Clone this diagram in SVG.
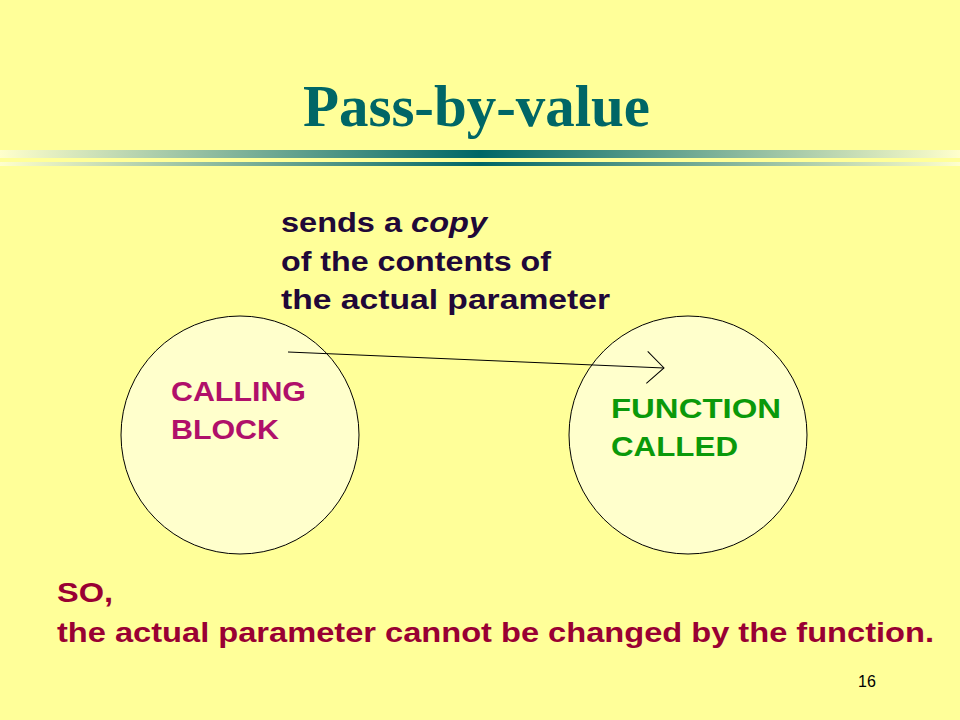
<svg xmlns="http://www.w3.org/2000/svg" width="960" height="720" viewBox="0 0 960 720">
<defs>
<linearGradient id="bar" x1="0" y1="0" x2="1" y2="0">
<stop offset="0" stop-color="#FFFFCC"/>
<stop offset="0.5" stop-color="#006666"/>
<stop offset="1" stop-color="#FFFFCC"/>
</linearGradient>
<marker id="open" markerWidth="20" markerHeight="34" refX="18" refY="17" orient="auto" markerUnits="userSpaceOnUse">
<path d="M1,1 L18,17 L1,33" fill="none" stroke="#000" stroke-width="1"/>
</marker>
</defs>
<style>
.t{font-family:"Liberation Sans",Arial,sans-serif;font-weight:bold}
.node circle{fill:#FFFFCC;stroke:#000;stroke-width:1}
</style>
<rect width="960" height="720" fill="#FFFF99"/>
<text x="303" y="126" textLength="347" lengthAdjust="spacingAndGlyphs" font-family="Liberation Serif,Times New Roman,serif" font-weight="bold" font-size="60" fill="#006666">Pass-by-value</text>
<rect x="0" y="150" width="960" height="8" fill="url(#bar)"/>
<rect x="0" y="162" width="960" height="4" fill="url(#bar)"/>
<g id="calling-block" class="node">
<circle cx="240" cy="435" r="119"/>
<text class="t" x="171" y="401" font-size="28" fill="#B0106A" textLength="135" lengthAdjust="spacingAndGlyphs">CALLING</text>
<text class="t" x="171" y="439" font-size="28" fill="#B0106A" textLength="108" lengthAdjust="spacingAndGlyphs">BLOCK</text>
</g>
<g id="function-called" class="node">
<circle cx="688" cy="435" r="119"/>
<text class="t" x="611" y="418" font-size="28" fill="#0A990A" textLength="170" lengthAdjust="spacingAndGlyphs">FUNCTION</text>
<text class="t" x="611" y="456" font-size="28" fill="#0A990A" textLength="127" lengthAdjust="spacingAndGlyphs">CALLED</text>
</g>
<g id="connectors">
<line x1="288" y1="352" x2="664" y2="368" stroke="#000" stroke-width="1" marker-end="url(#open)"/>
</g>
<g id="label" class="t" font-size="27" fill="#200838">
<text x="281" y="232" textLength="206" lengthAdjust="spacingAndGlyphs">sends a <tspan font-style="italic">copy</tspan></text>
<text x="281" y="271" textLength="270" lengthAdjust="spacingAndGlyphs">of the contents of</text>
<text x="281" y="309" textLength="329" lengthAdjust="spacingAndGlyphs">the actual  parameter</text>
</g>
<g class="t" font-size="28" fill="#990033">
<text x="57" y="602" textLength="56" lengthAdjust="spacingAndGlyphs">SO,</text>
<text x="57" y="642" textLength="877" lengthAdjust="spacingAndGlyphs">the actual parameter cannot be changed by the function.</text>
</g>
<text x="858" y="687" font-family="Liberation Sans,Arial,sans-serif" font-size="16" fill="#000">16</text>
</svg>
